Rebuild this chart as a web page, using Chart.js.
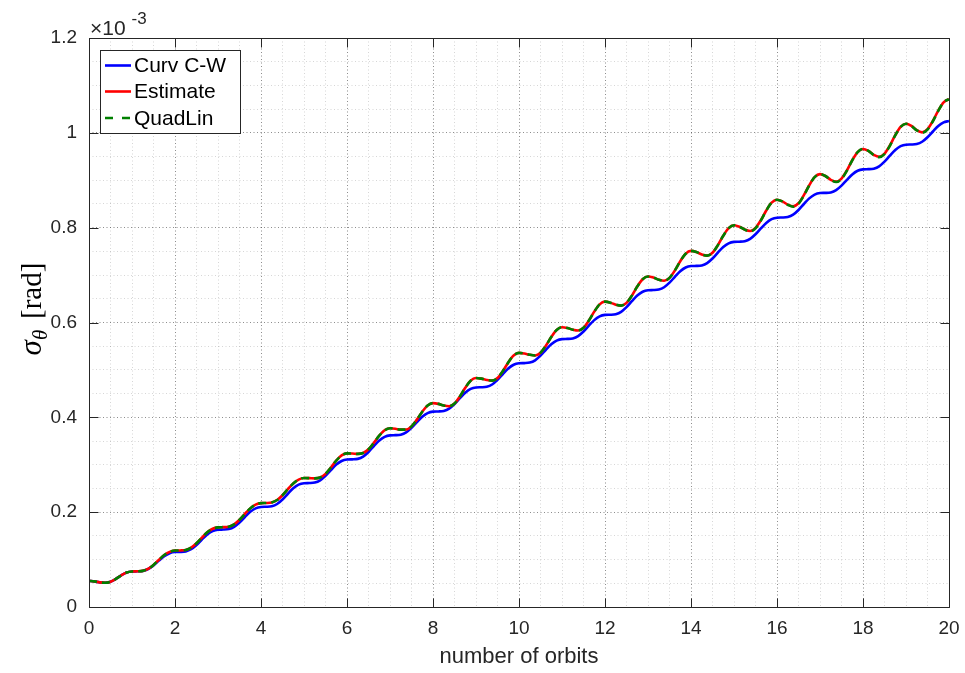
<!DOCTYPE html>
<html>
<head>
<meta charset="utf-8">
<script src="https://cdn.jsdelivr.net/npm/chart.js@4.4.1/dist/chart.umd.min.js"></script>
<style>
  html, body { margin: 0; padding: 0; background: #ffffff; }
  #wrap { width: 965px; height: 673px; position: relative; }
</style>
</head>
<body>
<div id="wrap"><canvas id="chart" width="965" height="673"></canvas></div>
<script>
// Angular error standard deviation (units of 1e-3 rad), 8 samples per orbit, orbits 0..20
const curvCW = [
  0.055, 0.054, 0.052, 0.051, 0.0533, 0.0593, 0.0667, 0.0727,
  0.075, 0.0753, 0.0761, 0.0801, 0.0878, 0.0978, 0.1072, 0.1135,
  0.116, 0.1163, 0.1173, 0.1218, 0.1307, 0.1421, 0.1529, 0.1601,
  0.163, 0.1633, 0.1643, 0.169, 0.178, 0.1897, 0.2007, 0.2081,
  0.211, 0.2114, 0.2124, 0.2172, 0.2267, 0.2388, 0.2503, 0.258,
  0.261, 0.2614, 0.2624, 0.2672, 0.2767, 0.2888, 0.3003, 0.308,
  0.311, 0.3114, 0.3124, 0.3173, 0.327, 0.3394, 0.351, 0.3589,
  0.362, 0.3624, 0.3634, 0.3682, 0.3777, 0.3898, 0.4013, 0.409,
  0.412, 0.4124, 0.4134, 0.4183, 0.428, 0.4404, 0.452, 0.4599,
  0.463, 0.4634, 0.4644, 0.4693, 0.479, 0.4914, 0.503, 0.5109,
  0.514, 0.5144, 0.5154, 0.5203, 0.53, 0.5424, 0.554, 0.5619,
  0.565, 0.5654, 0.5664, 0.5713, 0.581, 0.5934, 0.605, 0.6129,
  0.616, 0.6164, 0.6175, 0.6224, 0.6323, 0.6449, 0.6568, 0.6648,
  0.668, 0.6684, 0.6694, 0.6743, 0.684, 0.6964, 0.708, 0.7159,
  0.719, 0.7194, 0.7204, 0.7253, 0.735, 0.7474, 0.759, 0.7669,
  0.770, 0.7704, 0.7714, 0.7763, 0.786, 0.7984, 0.81, 0.8179,
  0.821, 0.8214, 0.8225, 0.8274, 0.8373, 0.8499, 0.8618, 0.8698,
  0.873, 0.8734, 0.8744, 0.8792, 0.8887, 0.9008, 0.9123, 0.92,
  0.923, 0.9234, 0.9245, 0.9294, 0.9393, 0.9519, 0.9638, 0.9718,
  0.975, 0.9754, 0.9764, 0.9812, 0.9907, 1.0028, 1.0143, 1.022,
  1.025
];

const estimate = [
  0.055, 0.054, 0.052, 0.051, 0.0533, 0.0593, 0.0667, 0.0727,
  0.075, 0.0753, 0.0762, 0.0805, 0.0888, 0.0995, 0.1095, 0.1163,
  0.119, 0.1193, 0.1204, 0.1251, 0.1343, 0.1462, 0.1575, 0.165,
  0.168, 0.1684, 0.1694, 0.1743, 0.184, 0.1964, 0.208, 0.2159,
  0.219, 0.2194, 0.2205, 0.2256, 0.2356, 0.2485, 0.2606, 0.2688,
  0.272, 0.2717, 0.2713, 0.2732, 0.2808, 0.2941, 0.3088, 0.3198,
  0.324, 0.3236, 0.3229, 0.3248, 0.3326, 0.3463, 0.3613, 0.3727,
  0.377, 0.376, 0.374, 0.3742, 0.3809, 0.3952, 0.4119, 0.425,
  0.430, 0.4284, 0.4251, 0.4235, 0.4292, 0.4441, 0.4624, 0.4773,
  0.483, 0.4816, 0.4789, 0.4775, 0.4831, 0.4977, 0.5158, 0.5304,
  0.536, 0.5346, 0.5319, 0.5305, 0.5362, 0.5511, 0.5694, 0.5843,
  0.590, 0.5883, 0.5848, 0.583, 0.5888, 0.6041, 0.6229, 0.6382,
  0.644, 0.6419, 0.6376, 0.6355, 0.6414, 0.6567, 0.6758, 0.6911,
  0.697, 0.6948, 0.6903, 0.688, 0.694, 0.7098, 0.7292, 0.745,
  0.751, 0.7485, 0.7435, 0.741, 0.7471, 0.7631, 0.7829, 0.7989,
  0.805, 0.802, 0.796, 0.793, 0.7993, 0.8158, 0.8362, 0.8527,
  0.859, 0.8555, 0.8485, 0.845, 0.8515, 0.8685, 0.8895, 0.9065,
  0.913, 0.909, 0.901, 0.897, 0.9036, 0.9208, 0.9422, 0.9594,
  0.966, 0.9619, 0.9536, 0.9495, 0.9561, 0.9735, 0.995, 1.0124,
  1.019, 1.0145, 1.0055, 1.001, 1.0077, 1.0252, 1.0468, 1.0643,
  1.071
];

const quadLin = [
  0.055, 0.054, 0.052, 0.051, 0.0533, 0.0593, 0.0667, 0.0727,
  0.075, 0.0753, 0.0762, 0.0805, 0.0888, 0.0995, 0.1095, 0.1163,
  0.119, 0.1193, 0.1204, 0.1251, 0.1343, 0.1462, 0.1575, 0.165,
  0.168, 0.1684, 0.1694, 0.1743, 0.184, 0.1964, 0.208, 0.2159,
  0.219, 0.2194, 0.2205, 0.2256, 0.2356, 0.2485, 0.2606, 0.2688,
  0.272, 0.2717, 0.2713, 0.2732, 0.2808, 0.2941, 0.3088, 0.3198,
  0.324, 0.3236, 0.3229, 0.3248, 0.3326, 0.3463, 0.3613, 0.3727,
  0.377, 0.376, 0.374, 0.3742, 0.3809, 0.3952, 0.4119, 0.425,
  0.430, 0.4284, 0.4251, 0.4235, 0.4292, 0.4441, 0.4624, 0.4773,
  0.483, 0.4816, 0.4789, 0.4775, 0.4831, 0.4977, 0.5158, 0.5304,
  0.536, 0.5346, 0.5319, 0.5305, 0.5362, 0.5511, 0.5694, 0.5843,
  0.590, 0.5883, 0.5848, 0.583, 0.5888, 0.6041, 0.6229, 0.6382,
  0.644, 0.6419, 0.6376, 0.6355, 0.6414, 0.6567, 0.6758, 0.6911,
  0.697, 0.6948, 0.6903, 0.688, 0.694, 0.7098, 0.7292, 0.745,
  0.751, 0.7485, 0.7435, 0.741, 0.7471, 0.7631, 0.7829, 0.7989,
  0.805, 0.802, 0.7958, 0.7922, 0.7985, 0.8152, 0.836, 0.8527,
  0.859, 0.8555, 0.8483, 0.8442, 0.8506, 0.8678, 0.8893, 0.9065,
  0.913, 0.909, 0.9008, 0.8962, 0.9026, 0.92, 0.942, 0.9594,
  0.966, 0.9619, 0.9534, 0.9487, 0.9551, 0.9727, 0.9947, 1.0124,
  1.019, 1.0145, 1.0053, 1.0002, 1.0067, 1.0244, 1.0465, 1.0643,
  1.071
];

const seriesLabels = ['Curv C-W', 'Estimate', 'QuadLin'];

const xTicks = [0, 2, 4, 6, 8, 10, 12, 14, 16, 18, 20];
const xTickLabels = ['0', '2', '4', '6', '8', '10', '12', '14', '16', '18', '20'];
const yTicks = [0, 0.2, 0.4, 0.6, 0.8, 1.0, 1.2];
const yTickLabels = ['0', '0.2', '0.4', '0.6', '0.8', '1', '1.2'];

// sample grid: 8 samples per orbit
const orbits = curvCW.map((_, i) => i / 8);
// minor grid positions
const xMinorTicks = [];
for (let i = 0; i <= 40; i++) xMinorTicks.push(i / 2);
const yMinorTicks = [];
for (let i = 0; i <= 24; i++) yMinorTicks.push(i / 20);

const AXIS = '#262626';
const SANS = '"Liberation Sans", Arial, Helvetica, sans-serif';
const SERIF = '"Liberation Serif", "DejaVu Serif", "Times New Roman", serif';
const TICK_LEN = 9;

const toPoints = vals => vals.map((v, i) => ({ x: orbits[i], y: v }));

const datasets = [
  { label: seriesLabels[0], data: toPoints(curvCW), borderColor: '#0000ff', borderWidth: 2.6, order: 2 },
  { label: seriesLabels[1], data: toPoints(estimate), borderColor: '#ff0000', borderWidth: 2.6, order: 1 },
  { label: seriesLabels[2], data: toPoints(quadLin), borderColor: '#008000', borderWidth: 2.6, borderDash: [8, 5], order: 0 }
].map(d => Object.assign({
  pointRadius: 0,
  fill: false,
  cubicInterpolationMode: 'monotone',
  backgroundColor: d.borderColor
}, d));

function fixedTicks(list) {
  return scale => { scale.ticks = list.map(v => ({ value: v })); };
}

// horizontal axes: keep the plot edge fixed regardless of label overhang
function fitHorizontal(h) {
  return s => { s.height = h; s.paddingLeft = 0; s.paddingRight = 0; };
}

// Axes box, inward tick marks, legend, exponent and y-axis label
const decorations = {
  id: 'decorations',
  afterDatasetsDraw(chart) {
    const { ctx, chartArea: a, scales: { x, y } } = chart;
    const L = Math.round(a.left) + 0.5, R = Math.round(a.right) + 0.5;
    const T = Math.round(a.top) + 0.5, B = Math.round(a.bottom) + 0.5;
    ctx.save();
    ctx.setLineDash([]);
    ctx.strokeStyle = AXIS;
    ctx.lineWidth = 1;
    ctx.beginPath();
    ctx.rect(L, T, R - L, B - T);
    xTicks.forEach(v => {
      const px = Math.round(x.getPixelForValue(v)) + 0.5;
      ctx.moveTo(px, B); ctx.lineTo(px, B - TICK_LEN);
      ctx.moveTo(px, T); ctx.lineTo(px, T + TICK_LEN);
    });
    yTicks.forEach(v => {
      const py = Math.round(y.getPixelForValue(v)) + 0.5;
      ctx.moveTo(L, py); ctx.lineTo(L + TICK_LEN, py);
      ctx.moveTo(R, py); ctx.lineTo(R - TICK_LEN, py);
    });
    ctx.stroke();

    // legend
    const lx = 100.5, ly = 50.5, lw = 140, lh = 83;
    ctx.fillStyle = '#ffffff';
    ctx.fillRect(lx, ly, lw, lh);
    ctx.strokeRect(lx, ly, lw, lh);
    const rowY = [65.5, 91.5, 118];
    ctx.font = '21px ' + SANS;
    ctx.textBaseline = 'middle';
    ctx.textAlign = 'left';
    chart.data.datasets.forEach((ds, i) => {
      ctx.save();
      ctx.strokeStyle = ds.borderColor;
      ctx.lineWidth = 2.6;
      ctx.setLineDash(ds.borderDash ? [8, 9] : []);
      ctx.beginPath();
      ctx.moveTo(105, rowY[i]);
      ctx.lineTo(131, rowY[i]);
      ctx.stroke();
      ctx.restore();
      ctx.fillStyle = '#000000';
      ctx.fillText(ds.label, 134, rowY[i] + 1);
    });

    // exponent label above the y axis
    ctx.fillStyle = AXIS;
    ctx.textBaseline = 'alphabetic';
    ctx.font = '21px ' + SANS;
    ctx.fillText('\u00d710', 90, 35);
    const w10 = ctx.measureText('\u00d710').width;
    ctx.font = '17px ' + SANS;
    ctx.fillText('-3', 90 + w10 + 6, 24);

    // y-axis label: sigma_theta [rad]
    ctx.translate(32, 309);
    ctx.rotate(-Math.PI / 2);
    ctx.fillStyle = '#000000';
    const parts = [
      { t: '\u03c3', f: 'italic 31px ' + SERIF, dy: 0 },
      { t: '\u03b8', f: 'italic 21px ' + SERIF, dy: 6 },
      { t: '\u2009[rad]', f: '29px ' + SERIF, dy: 0 }
    ];
    let total = 0;
    parts.forEach(p => { ctx.font = p.f; p.w = ctx.measureText(p.t).width; total += p.w; });
    total += 5;
    let cx = -total / 2;
    parts.forEach(p => {
      ctx.font = p.f;
      ctx.fillText(p.t, cx, 9 + p.dy);
      cx += p.w + (p.t === '\u03b8' ? 5 : 0);
    });
    ctx.restore();
  }
};

new Chart(document.getElementById('chart'), {
  type: 'line',
  data: { datasets },
  plugins: [decorations],
  options: {
    responsive: false,
    animation: false,
    devicePixelRatio: 1,
    layout: { padding: { left: 0, right: 16, top: 38, bottom: 0 } },
    plugins: { legend: { display: false }, tooltip: { enabled: false } },
    scales: {
      xMinor: {
        type: 'linear', position: 'bottom', min: 0, max: 20,
        afterBuildTicks: fixedTicks(xMinorTicks),
        ticks: { display: false },
        grid: { color: 'rgba(0,0,0,0.16)', lineWidth: 1, drawTicks: false },
        border: { display: false, dash: [1, 2.5] },
        afterFit: fitHorizontal(0)
      },
      yMinor: {
        type: 'linear', position: 'left', min: 0, max: 1.2,
        afterBuildTicks: fixedTicks(yMinorTicks),
        ticks: { display: false },
        grid: { color: 'rgba(0,0,0,0.16)', lineWidth: 1, drawTicks: false },
        border: { display: false, dash: [1, 2.5] },
        afterFit: s => { s.width = 0; s.paddingTop = 0; s.paddingBottom = 0; }
      },
      x: {
        type: 'linear', position: 'bottom', min: 0, max: 20,
        afterBuildTicks: fixedTicks(xTicks),
        ticks: {
          font: { family: SANS, size: 19 }, color: AXIS, padding: 10,
          maxRotation: 0, autoSkip: false,
          callback: (v, i) => xTickLabels[i]
        },
        grid: { color: 'rgba(0,0,0,0.34)', lineWidth: 1, drawTicks: false },
        border: { display: false, dash: [1, 2.5] },
        title: {
          display: true, text: 'number of orbits', color: AXIS,
          font: { family: SANS, size: 22 }, padding: { top: 0, bottom: 3 }
        },
        afterFit: fitHorizontal(66)
      },
      y: {
        type: 'linear', position: 'left', min: 0, max: 1.2,
        afterBuildTicks: fixedTicks(yTicks),
        ticks: {
          font: { family: SANS, size: 19 }, color: AXIS, padding: 12,
          callback: (v, i) => yTickLabels[i]
        },
        grid: { color: 'rgba(0,0,0,0.34)', lineWidth: 1, drawTicks: false },
        border: { display: false, dash: [1, 2.5] },
        afterFit: s => { s.width = 89; s.paddingTop = 0; s.paddingBottom = 0; }
      }
    }
  }
});
</script>
</body>
</html>
